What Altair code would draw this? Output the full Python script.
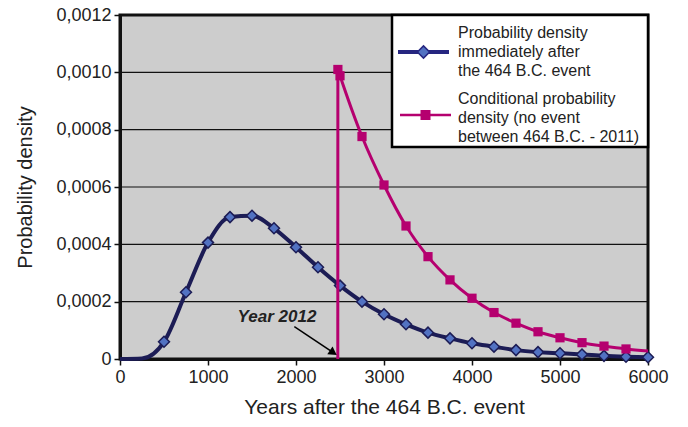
import altair as alt
import pandas as pd

# ---- data ----
years_blue = [0, 250, 500, 750, 1000, 1250, 1500, 1750, 2000, 2250, 2500, 2750, 3000,
              3250, 3500, 3750, 4000, 4250, 4500, 4750, 5000, 5250, 5500, 5750, 6000]
dens_blue = [0.0, 0.000002, 0.00006, 0.000233, 0.000406, 0.000495, 0.0005, 0.000456,
             0.00039, 0.00032, 0.000256, 0.0002, 0.000156, 0.000121, 0.000092, 0.000072,
             0.000055, 0.000043, 0.000031, 0.000024, 0.00002, 0.000016, 0.000011,
             0.000008, 0.000006]
blue_marker_from = 500

years_cond = [2475, 2476, 2500, 2750, 3000, 3250, 3500, 3750, 4000, 4250, 4500,
              4750, 5000, 5250, 5500, 5750, 6000]
dens_cond = [0.0, 0.00101, 0.000988, 0.000776, 0.000607, 0.000464, 0.000357, 0.000276,
             0.000212, 0.000162, 0.000125, 0.000095, 0.000074, 0.000057, 0.000045,
             0.000035, 0.000028]
cond_marker_years = [2476, 2500, 2750, 3000, 3250, 3500, 3750, 4000, 4250, 4500,
                     4750, 5000, 5250, 5500, 5750]

y_ticks = [0, 0.0002, 0.0004, 0.0006, 0.0008, 0.0010, 0.0012]
x_ticks = [0, 1000, 2000, 3000, 4000, 5000, 6000]

annot_text = "Year 2012"
annot_text_pos = (1784, 0.000148)
arrow_start = (1981, 0.000113)
arrow_end = (2424, 0.000022)

legend_blue = ["Probability density", "immediately after", "the 464 B.C. event"]
legend_cond = ["Conditional probability", "density (no event", "between 464 B.C. - 2011)"]

FONT = "Liberation Sans"
BLUE_LINE = "#1c1c55"
BLUE_FILL = "#5272c2"
MAGENTA = "#b5006f"

blue_df = pd.DataFrame({"x": years_blue, "y": dens_blue})
blue_mk = blue_df[blue_df["x"] >= blue_marker_from]
cond_df = pd.DataFrame({"x": years_cond, "y": dens_cond})
cond_mk = cond_df[cond_df["x"].isin(cond_marker_years)]
grid_df = pd.DataFrame({"gy": y_ticks[1:-1]})

xs = alt.Scale(domain=[0, 6000], nice=False, zero=False)
ys = alt.Scale(domain=[0, 0.0012], nice=False)

X = alt.X("x:Q", scale=xs, title="Years after the 464 B.C. event",
          axis=alt.Axis(values=x_ticks, format="d", grid=False, labelFlush=False,
                        titleFontSize=21))
Y = alt.Y("y:Q", scale=ys, title="Probability density",
          axis=alt.Axis(values=y_ticks, grid=False, labelFlush=False,
                        labelExpr="datum.value == 0 ? '0' : replace(format(datum.value, '.4f'), '.', ',')"))

grid = alt.Chart(grid_df).mark_rule(color="#111111", strokeWidth=1.2, opacity=1).encode(
    x=alt.value(0), x2=alt.value(528),
    y=alt.Y("gy:Q", scale=ys, title="Probability density"))
blue_line = alt.Chart(blue_df).mark_line(color=BLUE_LINE, strokeWidth=4,
                                         interpolate="monotone").encode(x=X, y=Y)
blue_pts = alt.Chart(blue_mk).mark_point(shape="diamond", size=120, filled=True,
                                         fill=BLUE_FILL, stroke=BLUE_LINE, strokeWidth=1.5,
                                         opacity=1).encode(x="x:Q", y="y:Q")
cond_line = alt.Chart(cond_df).mark_line(color=MAGENTA, strokeWidth=3,
                                         interpolate="monotone").encode(x="x:Q", y="y:Q")
cond_pts = alt.Chart(cond_mk).mark_point(shape="square", size=85, filled=True,
                                         fill=MAGENTA, opacity=1).encode(x="x:Q", y="y:Q")

ann_df = pd.DataFrame({"x": [annot_text_pos[0]], "y": [annot_text_pos[1]], "t": [annot_text]})
ann_text = alt.Chart(ann_df).mark_text(font=FONT, fontSize=17, fontWeight="bold",
                                       fontStyle="italic", color="#222",
                                       baseline="middle", align="center").encode(
    x="x:Q", y="y:Q", text="t:N")
arr_df = pd.DataFrame({"x": [arrow_start[0]], "y": [arrow_start[1]],
                       "x2": [arrow_end[0]], "y2": [arrow_end[1]]})
arr_rule = alt.Chart(arr_df).mark_rule(color="black", strokeWidth=1.5).encode(
    x="x:Q", y="y:Q", x2="x2:Q", y2="y2:Q")
head_df = pd.DataFrame({"x": [arrow_end[0]], "y": [arrow_end[1]]})
arr_head = alt.Chart(head_df).mark_point(shape="triangle-up", size=90, filled=True,
                                         fill="black", opacity=1, angle=124).encode(
    x="x:Q", y="y:Q")

one = pd.DataFrame({"a": [0]})
leg_box = alt.Chart(one).mark_rect(fill="white", stroke="black", strokeWidth=2.5).encode(
    x=alt.value(272), x2=alt.value(528), y=alt.value(0), y2=alt.value(132))
leg_blue_rule = alt.Chart(one).mark_rule(color="#262680", strokeWidth=4).encode(
    x=alt.value(278), x2=alt.value(329), y=alt.value(37))
leg_blue_pt = alt.Chart(one).mark_point(shape="diamond", size=150, filled=True,
                                        fill=BLUE_FILL, stroke="#262680", strokeWidth=1.5,
                                        opacity=1).encode(x=alt.value(303.5), y=alt.value(37))
leg_cond_rule = alt.Chart(one).mark_rule(color=MAGENTA, strokeWidth=2.5).encode(
    x=alt.value(280), x2=alt.value(331), y=alt.value(100))
leg_cond_pt = alt.Chart(one).mark_point(shape="square", size=100, filled=True,
                                        fill=MAGENTA, opacity=1).encode(
    x=alt.value(305.5), y=alt.value(100))
leg_txt1 = alt.Chart(one).mark_text(font=FONT, fontSize=16, color="#222", align="left",
                                    baseline="middle", lineHeight=19, lineBreak="\n").encode(
    x=alt.value(338), y=alt.value(18), text=alt.value("\n".join(legend_blue)))
leg_txt2 = alt.Chart(one).mark_text(font=FONT, fontSize=16, color="#222", align="left",
                                    baseline="middle", lineHeight=19, lineBreak="\n").encode(
    x=alt.value(338), y=alt.value(84), text=alt.value("\n".join(legend_cond)))

chart = alt.layer(
    grid, blue_line, blue_pts, cond_line, cond_pts, arr_rule, arr_head, ann_text,
    leg_box, leg_blue_rule, leg_blue_pt, leg_cond_rule, leg_cond_pt, leg_txt1, leg_txt2
).properties(
    width=528, height=344,
    autosize=alt.AutoSizeParams(type="none"),
    padding={"left": 120, "top": 15, "right": 40, "bottom": 68},
    background="white",
).configure_view(
    fill="#cdcdcd", stroke="#111", strokeWidth=3
).configure_axis(
    labelFont=FONT, titleFont=FONT, labelFontSize=18, titleFontSize=20,
    labelColor="#222", titleColor="#222", titleFontWeight="normal",
    domainColor="#111", domainWidth=3, tickColor="#111", tickWidth=1.5, tickSize=6,
    labelPadding=3
).configure_axisY(
    titlePadding=20
).configure_axisX(
    titlePadding=10
)

chart.save("out.html", embed_options={"renderer": "svg", "actions": False})
